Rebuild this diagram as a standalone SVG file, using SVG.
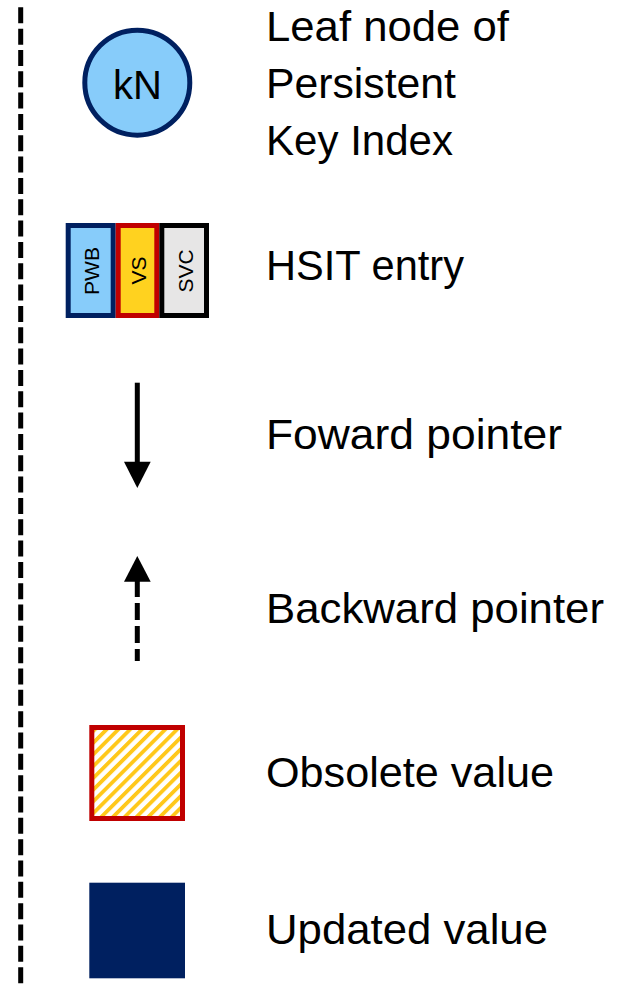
<svg xmlns="http://www.w3.org/2000/svg" width="636" height="985" viewBox="0 0 636 985">
<style>
.lbl{font-family:"Liberation Sans",Arial,sans-serif;font-size:42px;fill:#000}
.rot{font-family:"Liberation Sans",Arial,sans-serif;font-size:21px;fill:#000;text-anchor:middle}
.kn{font-family:"Liberation Sans",Arial,sans-serif;font-size:40px;fill:#000;text-anchor:middle}
</style>
<defs>
<pattern id="hatch" patternUnits="userSpaceOnUse" width="8.3" height="8.3" patternTransform="rotate(45)">
<rect width="8.3" height="8.3" fill="#fff"/>
<rect width="3.8" height="8.3" fill="#FFC81A"/>
</pattern>
</defs>
<rect width="636" height="985" fill="#fff"/>
<line x1="20.7" y1="7.3" x2="20.7" y2="985" stroke="#000" stroke-width="5" stroke-dasharray="16 5.33"/>
<g id="leaf-node">
<circle cx="137.3" cy="82.7" r="52.5" fill="#87CCFA" stroke="#002060" stroke-width="5"/>
<text class="kn" x="137.5" y="99">kN</text>
</g>
<g id="hsit-entry">
<rect x="68.2" y="225.5" width="45" height="90" fill="#87CCFA" stroke="#002060" stroke-width="5"/>
<rect x="118.2" y="225.5" width="38.6" height="90" fill="#FFD21F" stroke="#C00000" stroke-width="5"/>
<rect x="161.8" y="225.5" width="44.7" height="90" fill="#E7E6E6" stroke="#000" stroke-width="5"/>
<text class="rot" transform="translate(98.8,271) rotate(-90)" textLength="48" lengthAdjust="spacingAndGlyphs">PWB</text>
<text class="rot" transform="translate(145.5,270.5) rotate(-90)">VS</text>
<text class="rot" transform="translate(192.5,271) rotate(-90)">SVC</text>
</g>
<g id="connectors">
<line x1="137.3" y1="382.7" x2="137.3" y2="463" stroke="#000" stroke-width="5"/>
<polygon points="124,461.7 150.7,461.7 137.3,488" fill="#000"/>
<line x1="137.3" y1="580" x2="137.3" y2="661" stroke="#000" stroke-width="5" stroke-dasharray="17 6"/>
<polygon points="124,581.7 150.7,581.7 137.3,556" fill="#000"/>
</g>
<g id="obsolete">
<rect x="91.8" y="727.5" width="90.7" height="91" fill="url(#hatch)" stroke="#C00000" stroke-width="5"/>
</g>
<g id="updated">
<rect x="89.3" y="882.7" width="95.7" height="95.6" fill="#002060"/>
</g>
<g id="labels">
<text class="lbl" x="266" y="40.7" textLength="243" lengthAdjust="spacingAndGlyphs">Leaf node of</text>
<text class="lbl" x="266" y="97.5" textLength="190" lengthAdjust="spacingAndGlyphs">Persistent</text>
<text class="lbl" x="266" y="155" textLength="187" lengthAdjust="spacingAndGlyphs">Key Index</text>
<text class="lbl" x="266" y="280" textLength="198" lengthAdjust="spacingAndGlyphs">HSIT entry</text>
<text class="lbl" x="266" y="449.3" textLength="296" lengthAdjust="spacingAndGlyphs">Foward pointer</text>
<text class="lbl" x="266" y="622.7" textLength="338" lengthAdjust="spacingAndGlyphs">Backward pointer</text>
<text class="lbl" x="266" y="786.7" textLength="288" lengthAdjust="spacingAndGlyphs">Obsolete value</text>
<text class="lbl" x="266" y="944.3" textLength="282" lengthAdjust="spacingAndGlyphs">Updated value</text>
</g>
</svg>
